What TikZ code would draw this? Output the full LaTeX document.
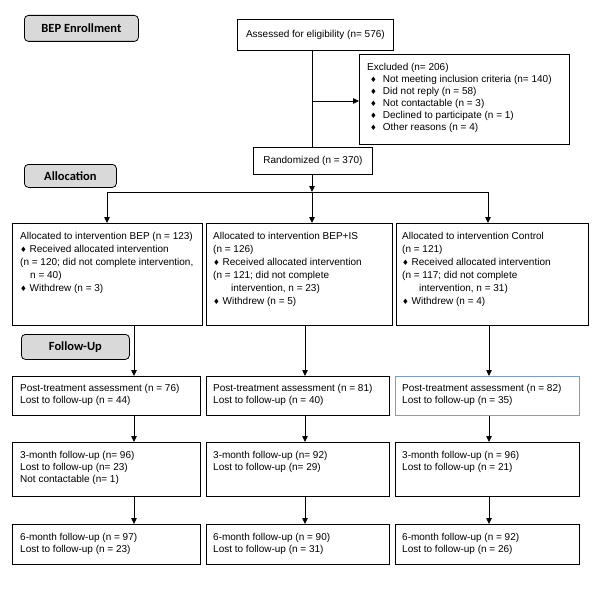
\documentclass[tikz,border=0pt]{standalone}
\usepackage{fontspec}
\setmainfont{Liberation Sans}
\newfontfamily\carl{Carlito}
\newfontfamily\djv{DejaVu Sans}
\usetikzlibrary{arrows.meta}
\newcommand\dia{{\djv\fontsize{7.5}{6}\selectfont ♦}}
\definecolor{bluebd}{RGB}{124,156,206}
\begin{document}
\begin{tikzpicture}[x=1pt,y=-1pt,
  box/.style={draw, line width=0.8pt, inner sep=0pt, anchor=north west, font=\fontsize{10}{12}\selectfont},
  stage/.style={draw, line width=0.8pt, fill=black!15, rounded corners=4pt, inner sep=0pt, anchor=north west, font=\carl\bfseries\fontsize{12.5}{14}\selectfont},
  txt/.style={inner sep=0pt, anchor=north west, align=left, font=\fontsize{10}{12}\selectfont},
  txtb/.style={txt, font=\fontsize{10}{13}\selectfont},
  conn/.style={line width=0.8pt},
  arr/.style={conn, -{Triangle[length=6pt,width=5.5pt]}}]
\useasboundingbox (0,0) rectangle (594,594);

% stage labels
\node[stage, minimum width=114pt, minimum height=26pt] (enr) at (24,15) {BEP Enrollment};
\node[stage, minimum width=92pt, minimum height=23pt] (alloc) at (24,164) {Allocation};
\node[stage, minimum width=108pt, minimum height=25pt] (fu) at (21,334) {Follow-Up};

% enrollment
\node[box, minimum width=156pt, minimum height=31pt] (assess) at (237,19) {Assessed for eligibility (n= 576)};
\node[box, minimum width=210pt, minimum height=90pt] (excl) at (359,54) {};
\node[txt] (exclt) at (367,63) {Excluded (n= 206)\\
\hspace*{3pt}\dia\hspace{6pt}Not meeting inclusion criteria (n= 140)\\
\hspace*{3pt}\dia\hspace{6pt}Did not reply (n = 58)\\
\hspace*{3pt}\dia\hspace{6pt}Not contactable (n = 3)\\
\hspace*{3pt}\dia\hspace{6pt}Declined to participate (n = 1)\\
\hspace*{3pt}\dia\hspace{6pt}Other reasons (n = 4)};
\node[box, minimum width=119pt, minimum height=27pt] (rand) at (253,147) {Randomized (n = 370)};

% allocation boxes
\node[box, minimum width=190pt, minimum height=102pt] (a1) at (12,223) {};
\node[txtb] (a1t) at (20,232) {Allocated to intervention BEP (n = 123)\\
\dia\ Received allocated intervention\\
(n = 120; did not complete intervention,\\
\hspace*{10pt}n = 40)\\
\dia\ Withdrew (n = 3)};
\node[box, minimum width=186pt, minimum height=102pt] (a2) at (206,223) {};
\node[txtb] (a2t) at (213,232) {Allocated to intervention BEP+IS\\
(n = 126)\\
\dia\ Received allocated intervention\\
(n = 121; did not complete\\
\hspace*{18pt}intervention, n = 23)\\
\dia\ Withdrew (n = 5)};
\node[box, minimum width=192pt, minimum height=102pt] (a3) at (396,223) {};
\node[txtb] (a3t) at (402,232) {Allocated to intervention Control\\
(n = 121)\\
\dia\ Received allocated intervention\\
(n = 117; did not complete\\
\hspace*{17pt}intervention, n = 31)\\
\dia\ Withdrew (n = 4)};

% post-treatment
\node[box, minimum width=188pt, minimum height=39pt] (p1) at (12,376) {};
\node[txt] (p1t) at (20,384) {Post-treatment assessment (n = 76)\\Lost to follow-up (n = 44)};
\node[box, minimum width=183pt, minimum height=39pt] (p2) at (206,376) {};
\node[txt] (p2t) at (213,384) {Post-treatment assessment (n = 81)\\Lost to follow-up (n = 40)};
\node[box, draw=bluebd, minimum width=184pt, minimum height=39pt] (p3) at (395,376) {};
\node[txt] (p3t) at (402,384) {Post-treatment assessment (n = 82)\\Lost to follow-up (n = 35)};

% 3-month
\node[box, minimum width=188pt, minimum height=54pt] (m1) at (12,442) {};
\node[txt] (m1t) at (20,451) {3-month follow-up (n= 96)\\Lost to follow-up (n= 23)\\Not contactable (n= 1)};
\node[box, minimum width=183pt, minimum height=54pt] (m2) at (206,442) {};
\node[txt] (m2t) at (213,451) {3-month follow-up (n= 92)\\Lost to follow-up (n= 29)};
\node[box, minimum width=184pt, minimum height=54pt] (m3) at (395,442) {};
\node[txt] (m3t) at (402,451) {3-month follow-up (n = 96)\\Lost to follow-up (n = 21)};

% 6-month
\node[box, minimum width=188pt, minimum height=40pt] (s1) at (12,524) {};
\node[txt] (s1t) at (20,533) {6-month follow-up (n = 97)\\Lost to follow-up (n = 23)};
\node[box, minimum width=183pt, minimum height=40pt] (s2) at (206,524) {};
\node[txt] (s2t) at (213,533) {6-month follow-up (n = 90)\\Lost to follow-up (n = 31)};
\node[box, minimum width=184pt, minimum height=40pt] (s3) at (395,524) {};
\node[txt] (s3t) at (402,533) {6-month follow-up (n = 92)\\Lost to follow-up (n = 26)};

% coordinates
\coordinate (trunk) at (312,101);
\coordinate (split) at (312,192);
\coordinate (b1) at (107,192);
\coordinate (b3) at (488,192);
\coordinate (c1) at (134,0);
\coordinate (c2) at (305,0);
\coordinate (c3) at (489,0);

% connectors
\draw[conn] (split |- assess.south) -- (split |- rand.north);
\draw[arr] (trunk) -- (trunk -| excl.west);
\draw[arr] (split |- rand.south) -- (split);
\draw[conn] (b1) -- (b3);
\draw[arr] (b1) -- (b1 |- a1.north);
\draw[arr] (split) -- (split |- a2.north);
\draw[arr] (b3) -- (b3 |- a3.north);

\draw[arr] (c1 |- a1.south) -- (c1 |- p1.north);
\draw[arr] (c2 |- a2.south) -- (c2 |- p2.north);
\draw[arr] (c3 |- a3.south) -- (c3 |- p3.north);
\draw[arr] (c1 |- p1.south) -- (c1 |- m1.north);
\draw[arr] (c2 |- p2.south) -- (c2 |- m2.north);
\draw[arr] (c3 |- p3.south) -- (c3 |- m3.north);
\draw[arr] (c1 |- m1.south) -- (c1 |- s1.north);
\draw[arr] (c2 |- m2.south) -- (c2 |- s2.north);
\draw[arr] (c3 |- m3.south) -- (c3 |- s3.north);
\end{tikzpicture}
\end{document}
